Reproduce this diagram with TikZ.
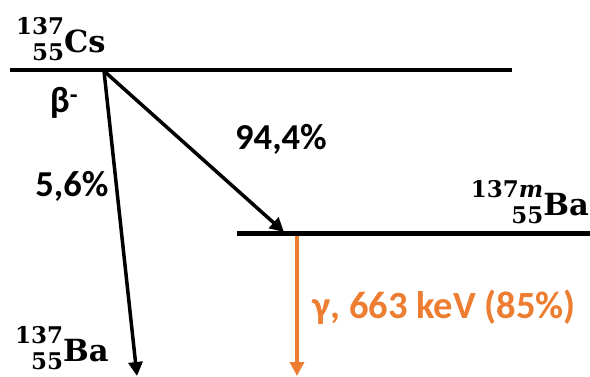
\documentclass[tikz,border=0pt]{standalone}
\usepackage{fontspec}
\usepackage{tikz}
\usetikzlibrary{arrows.meta}
\newfontfamily\labelfont{Carlito}
\newfontfamily\isofont{DejaVu Serif}
\definecolor{gammaorange}{RGB}{237,125,49}
\newlength{\isowd}
\newsavebox{\isoup}
\newsavebox{\isodown}
% mass number, charge number, symbol
\newcommand{\isotope}[3]{%
  \sbox{\isoup}{\fontsize{23}{23}\selectfont #1}%
  \sbox{\isodown}{\fontsize{23}{23}\selectfont #2}%
  \setlength{\isowd}{\wd\isoup}%
  \ifdim\wd\isodown>\isowd\setlength{\isowd}{\wd\isodown}\fi
  \makebox[\isowd][r]{\raisebox{17.5pt}{\usebox{\isoup}}}%
  \llap{\raisebox{-8.5pt}{\usebox{\isodown}}}#3}

\begin{document}
\begin{tikzpicture}[x=1pt,y=-1pt,
  level/.style={line width=4.5pt},
  decay/.style={line width=3.5pt,-{Triangle[width=14pt,length=14pt]}},
  pct/.style={font=\fontsize{36.5}{40}\selectfont\labelfont\bfseries},
  iso/.style={font=\fontsize{30.5}{34}\selectfont\isofont\bfseries, inner sep=0pt}]
  \useasboundingbox (0,0) rectangle (590,376);
  % energy levels
  \coordinate (cesium-l) at (10,70);
  \coordinate (cesium-r) at (512,70);
  \coordinate (bam-l) at (237,233.5);
  \coordinate (bam-r) at (590,233.5);
  \draw[level] (cesium-l) -- (cesium-r);
  \draw[level] (bam-l) -- (bam-r);
  % nuclides
  \node[iso, anchor=base west] (cesium) at (16,52) {\isotope{137}{55}{Cs}};
  \node[iso, anchor=base east] (bam) at (589,215) {\isotope{137\textit{m}}{55}{Ba}};
  \node[iso, anchor=base west] (barium) at (15,361) {\isotope{137}{55}{Ba}};
  % beta decays
  \coordinate (start) at (104,71);
  \coordinate (ba-end) at (137,376);
  \coordinate (bam-end) at (284,232);
  \draw[decay] (start) -- (ba-end);
  \draw[decay] (start) -- (bam-end);
  \node[pct] (beta) at (64,103) {β\textsuperscript{-}};
  \node[pct] (p944) at (281,139) {94,4\%};
  \node[pct] (p56) at (72,186) {5,6\%};
  % gamma
  \coordinate (g-start) at (297,236);
  \coordinate (g-end) at (297,376);
  \draw[decay, gammaorange] (g-start) -- (g-end);
  \node[pct, text=gammaorange, font=\fontsize{38.5}{42}\selectfont\labelfont\bfseries] (gamma) at (444,307) {γ, 663 keV (85\%)};
\end{tikzpicture}
\end{document}
